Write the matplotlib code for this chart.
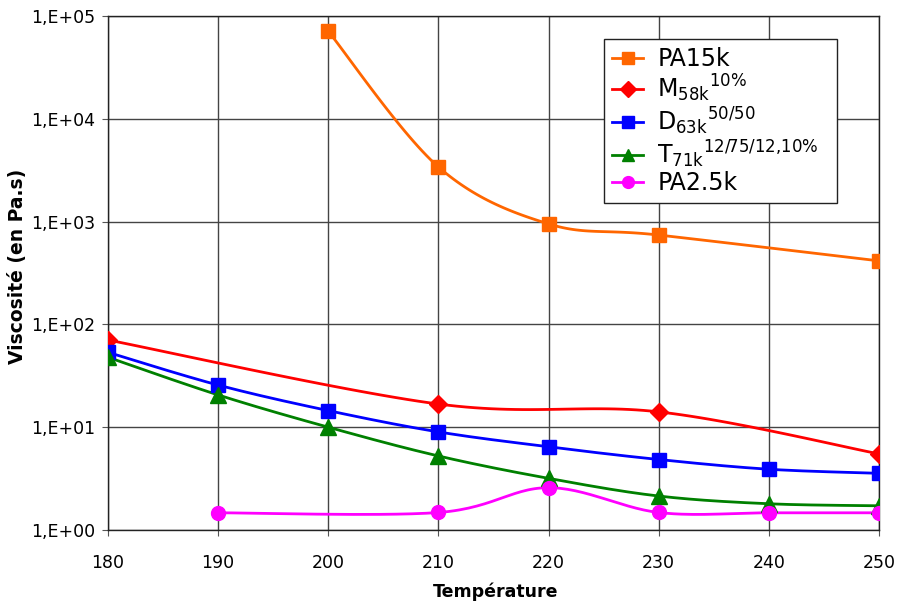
import numpy as np
import matplotlib
matplotlib.use("Agg")
import matplotlib.pyplot as plt
from matplotlib.ticker import FixedLocator, FixedFormatter, NullLocator

plt.rcParams['font.family'] = ['DejaVu Sans']
plt.rcParams['mathtext.fontset'] = 'custom'
plt.rcParams['mathtext.rm'] = 'DejaVu Sans'
plt.rcParams['mathtext.it'] = 'DejaVu Sans'

# ---- data ----
temperature = [180, 190, 200, 210, 220, 230, 240, 250]
pa15k = [np.nan, np.nan, 71000, 3400, 950, 740, np.nan, 415]
m58k = [70.5, np.nan, np.nan, 16.8, np.nan, 14.1, np.nan, 5.5]
d63k = [53.5, 25.7, 14.5, 9.0, 6.45, 4.85, 3.9, 3.56]
t71k = [47.9, 20.6, 10.0, 5.25, 3.18, 2.14, 1.8, 1.72]
pa25k = [np.nan, 1.47, np.nan, 1.48, 2.58, 1.48, 1.47, 1.47]

labels = ['PA15k',
          r'M$\mathregular{_{58k}}$$\mathregular{^{10\%}}$',
          r'D$\mathregular{_{63k}}$$\mathregular{^{50/50}}$',
          r'T$\mathregular{_{71k}}$$\mathregular{^{12/75/12{,}10\%}}$',
          'PA2.5k']
colors = ['#FF6600', '#FF0000', '#0000FF', '#008000', '#FF00FF']
markers = ['s', 'D', 's', '^', 'o']
msizes = [10, 9, 10, 11, 10]
yticklabels = ['1,E+00', '1,E+01', '1,E+02', '1,E+03', '1,E+04', '1,E+05']


def smooth(xs, ys, n=30):
    """Excel-like smoothed line (Catmull-Rom Bezier) in x / log10(y) space."""
    x = np.asarray(xs, float)
    y = np.log10(np.asarray(ys, float))
    m = ~np.isnan(y)
    x, y = x[m], y[m]
    px = np.concatenate([[x[0]], x, [x[-1]]])
    py = np.concatenate([[y[0]], y, [y[-1]]])
    ox, oy = [], []
    t = np.linspace(0, 1, n)
    for i in range(1, len(px) - 2):
        p0x, p1x, p2x, p3x = px[i - 1], px[i], px[i + 1], px[i + 2]
        p0y, p1y, p2y, p3y = py[i - 1], py[i], py[i + 1], py[i + 2]
        c1x = p1x + (p2x - p0x) / 6.0
        c1y = p1y + (p2y - p0y) / 6.0
        c2x = p2x - (p3x - p1x) / 6.0
        c2y = p2y - (p3y - p1y) / 6.0
        bx = (1 - t) ** 3 * p1x + 3 * (1 - t) ** 2 * t * c1x + 3 * (1 - t) * t ** 2 * c2x + t ** 3 * p2x
        by = (1 - t) ** 3 * p1y + 3 * (1 - t) ** 2 * t * c1y + 3 * (1 - t) * t ** 2 * c2y + t ** 3 * p2y
        ox.append(bx)
        oy.append(by)
    return np.concatenate(ox), 10 ** np.concatenate(oy)


fig = plt.figure(figsize=(8.98, 6.04), dpi=100)
ax = fig.add_axes([108 / 898, 1 - 530 / 604, (879 - 108) / 898, (530 - 16) / 604])
ax.set_yscale('log')
ax.set_xlim(180, 250)
ax.set_ylim(1, 1e5)

for i, series in enumerate([pa15k, m58k, d63k, t71k, pa25k]):
    sx, sy = smooth(temperature, series)
    ax.plot(sx, sy, color=colors[i], lw=2, zorder=3)
    ax.plot(temperature, series, linestyle='none', marker=markers[i],
            ms=msizes[i], color=colors[i], zorder=4)
    ax.plot([], [], color=colors[i], lw=2, marker=markers[i], ms=msizes[i],
            label=labels[i])

ax.xaxis.set_major_locator(FixedLocator(temperature))
ax.set_xticklabels([str(t) for t in temperature])
ax.yaxis.set_major_locator(FixedLocator([1, 10, 100, 1000, 1e4, 1e5]))
ax.yaxis.set_major_formatter(FixedFormatter(yticklabels))
ax.yaxis.set_minor_locator(NullLocator())
ax.grid(True, which='major', color='#444444', lw=1)
ax.tick_params(axis='both', which='major', direction='out', length=4,
               labelsize=12.5, color='#555555')
ax.tick_params(axis='x', pad=13)
ax.tick_params(axis='y', pad=5)
for s in ax.spines.values():
    s.set_color('#222222')
    s.set_linewidth(1)

fig.text(496 / 898, 1 - 592 / 604, 'Température', fontsize=12.5,
         fontweight='bold', ha='center', va='center')
fig.text(18 / 898, 1 - 266 / 604, 'Viscosité (en Pa.s)', fontsize=13.5,
         fontweight='bold', ha='center', va='center', rotation=90)

leg_x0 = (604 - 108) / 771
leg_w = (837 - 604) / 771
leg_top = (530 - 39) / 514
leg = ax.legend(loc='upper left', bbox_to_anchor=(leg_x0, leg_top - 0.3, leg_w, 0.3),
                mode='expand', fontsize=17,
                frameon=True, fancybox=False, edgecolor='#222222',
                framealpha=1, borderpad=0.35, labelspacing=0.06,
                handlelength=1.3, handletextpad=0.6, borderaxespad=0,
                markerscale=0.85)
leg.get_frame().set_linewidth(1)

fig.savefig('out.png', dpi=100)
